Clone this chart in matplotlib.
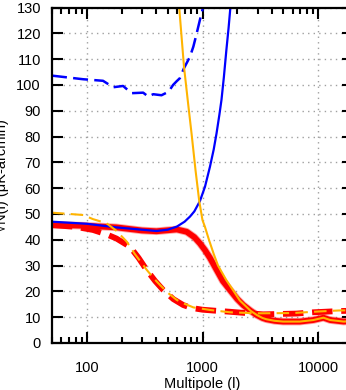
import numpy as np
import matplotlib
matplotlib.use('Agg')
import matplotlib.pyplot as plt
from matplotlib.ticker import LogLocator, NullFormatter, FixedLocator

plt.rc('font', family='Liberation Sans', size=10.5)

# multipole / noise values
l_red = [50, 100, 180, 300, 400, 600, 730, 850, 950, 1050, 1160, 1300, 1500, 1730, 2000, 2250, 2600,
         2930, 3300, 3570, 4200, 4980, 6940, 9080, 11100, 12700, 16600, 20000]
n_red = [45.8, 45.4, 44.8, 43.6, 43.3, 44.0, 43.1, 41.0, 38.6, 36.0, 33.0, 29.0, 24.0, 20.5, 17.0, 14.7, 12.5,
         10.9, 9.7, 9.2, 8.6, 8.3, 8.3, 8.9, 9.8, 8.9, 8.3, 8.5]

l_red_d = [50, 80, 113, 150, 180, 236, 280, 329, 390, 458, 560, 682, 800, 1000, 1300, 1730, 1970,
           3340, 6500, 9080, 15600, 20000]
n_red_d = [45.7, 45.0, 43.8, 42.0, 40.5, 37.3, 33.0, 28.3, 24.0, 20.5, 17.0, 14.7, 13.6, 12.9, 12.5,
           12.1, 11.9, 11.1, 11.4, 11.9, 12.4, 12.5]

l_blue = [50, 100, 180, 300, 400, 500, 600, 700, 780, 850, 950, 1050, 1160, 1250, 1322, 1400, 1459,
          1530, 1609, 1680, 1742, 1850]
n_blue = [47.0, 46.2, 44.8, 43.9, 43.4, 43.9, 45.1, 47.0, 49.0, 51.0, 55.0, 60.5, 68.3, 75.0, 81.2,
          88.5, 94.2, 103.0, 113.6, 122.0, 130.0, 145.0]

l_blue_d = [50, 93, 138, 169, 206, 243, 307, 339, 375, 442, 490, 522, 557, 600, 637, 692, 740, 780,
            833, 880, 920, 950, 1010, 1060]
n_blue_d = [103.6, 102.2, 101.6, 99.1, 99.6, 96.8, 97.0, 95.5, 96.4, 96.0, 97.0, 98.1, 100.0, 101.5,
            102.6, 106.5, 109.0, 111.0, 114.8, 119.0, 122.6, 125.2, 130.0, 136.0]

l_orange = [600, 629, 692, 750, 805, 870, 937, 1000, 1050, 1137, 1250, 1362, 1600, 1836, 2100, 2400,
            2600, 2960, 3300, 3570, 4200, 4980, 6940, 9080, 11100, 12700, 16600, 20000]
n_orange = [140.0, 130.0, 107.0, 93.0, 81.0, 67.0, 55.0, 47.6, 45.0, 40.0, 34.5, 30.0, 24.5, 20.5, 16.5,
            14.0, 12.5, 10.8, 9.7, 9.2, 8.6, 8.3, 8.3, 8.9, 9.8, 8.9, 8.3, 8.5]

l_orange_d = [50, 93, 113, 148, 180, 221, 260, 330, 380, 429, 500, 598, 700, 833, 1160, 1730, 3000,
              6000, 10000, 15000, 20000]
n_orange_d = [50.5, 49.6, 48.0, 46.4, 43.5, 39.3, 34.5, 28.3, 25.0, 22.5, 19.5, 16.7, 15.2, 13.8, 12.8,
              11.9, 11.5, 11.6, 12.2, 12.6, 12.7]

red = '#ff0000'
blue = '#0000ff'
orange = '#ffb400'

fig = plt.figure(figsize=(3.46, 3.90), dpi=100)
ax = fig.add_axes([52/346, 47/390, 301/346, 335.5/390])

ax.plot(l_red, n_red, color=red, lw=5.5, alpha=0.35, solid_capstyle='butt')
ax.plot(l_red, n_red, color=red, lw=4.2, solid_capstyle='butt')
ax.plot(l_red_d, n_red_d, color=red, lw=4.2, dashes=(3.5, 1.5), dash_capstyle='butt')
ax.plot(l_blue, n_blue, color=blue, lw=1.6)
ax.plot(l_blue_d, n_blue_d, color=blue, lw=1.8, dashes=(6, 2.5))
ax.plot(l_orange, n_orange, color=orange, lw=1.5)
ax.plot(l_orange_d, n_orange_d, color=orange, lw=1.5, dashes=(6, 3))

ax.set_xscale('log')
ax.set_xlim(50, 20000)
ax.set_ylim(0, 130)
ax.xaxis.set_major_locator(FixedLocator([100, 1000, 10000]))
ax.set_xticklabels(['100', '1000', '10000'])
ax.xaxis.set_minor_locator(LogLocator(base=10, subs=np.arange(2, 10)))
ax.xaxis.set_minor_formatter(NullFormatter())
ax.set_yticks(np.arange(0, 131, 10))

ax.grid(True, which='major', color='#a0a0a0', linestyle=(0, (1, 3)), lw=1)
ax.tick_params(which='both', direction='in', top=True, right=True, width=1.5, colors='black')
ax.tick_params(which='major', length=8)
ax.tick_params(which='minor', length=4)
ax.tick_params(axis='x', which='major', pad=13)
ax.tick_params(axis='y', which='major', pad=8)
for s in ax.spines.values():
    s.set_linewidth(1.6)

ax.set_xlabel('Multipole (l)')
ax.set_ylabel('\u221aN(l) (\u03bcK-arcmin)')
ax.xaxis.set_label_coords(0.5, -0.1)
ax.yaxis.set_label_coords(-0.143, 0.5)

fig.savefig('out.png', dpi=100)
